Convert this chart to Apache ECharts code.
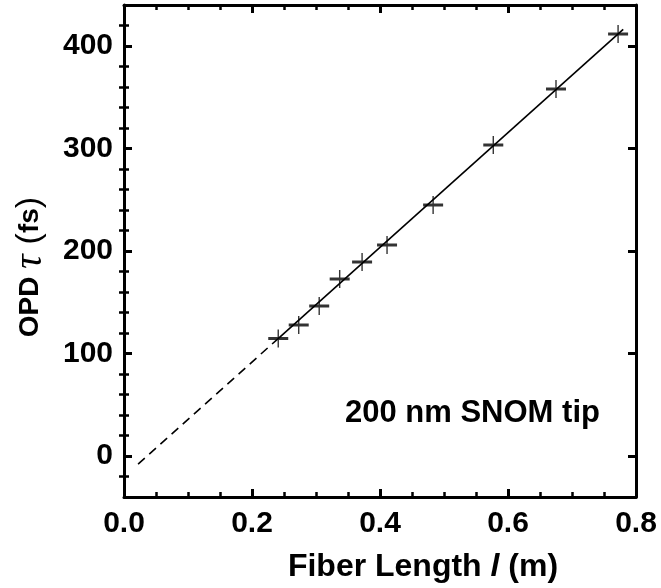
<!DOCTYPE html>
<html><head><meta charset="utf-8">
<script src="https://cdn.jsdelivr.net/npm/echarts@6/dist/echarts.min.js"></script>
<style>html,body{margin:0;padding:0;background:#fff}#c{width:661px;height:588px}</style>
</head><body><div id="c"></div>
<script>
// Measured data (fiber length in m, OPD in fs)
const lengthM = [0.241, 0.273, 0.305, 0.337, 0.372, 0.411, 0.483, 0.577, 0.675, 0.772];
const opdFs   = [114.6, 127.8, 146.3, 172.7, 189.3, 205.9, 244.9, 303.4, 358.0, 411.7];
// Linear fit: dashed extrapolation and solid part
const fitDashX = [0.022, 0.24];
const fitDashY = [-8.0, 114.1];
const fitSolidX = [0.24, 0.78];
const fitSolidY = [114.1, 416.2];
// Ticks
const xTicks = [0, 0.2, 0.4, 0.6, 0.8];
const yTicks = [0, 100, 200, 300, 400];
const yMinorTicks = [-20, 20, 40, 60, 80, 120, 140, 160, 180, 220, 240, 260, 280, 320, 340, 360, 380, 420];
const annotation = '200 nm SNOM tip';

const FONT = 'Liberation Sans';
const chart = echarts.init(document.getElementById('c'));
const crossPath = 'path://M0,8.4 L20,8.4 L20,11.6 L0,11.6 Z M9.3,0 L10.7,0 L10.7,20 L9.3,20 Z';

function xAxisCfg(pos, showLabel) {
  return {
    type: 'value', position: pos, min: 0, max: 0.8, interval: 0.2,
    axisLine: {show: true, onZero: false, lineStyle: {color: '#000', width: 3}},
    axisTick: {show: true, inside: true, length: 8, lineStyle: {color: '#000', width: 3}},
    minorTick: {show: true, splitNumber: 4, length: 5, lineStyle: {color: '#000', width: 2.5}},
    splitLine: {show: false}, minorSplitLine: {show: false},
    axisLabel: {show: showLabel, margin: 12, fontFamily: FONT, fontWeight: 'bold', fontSize: 30, color: '#000',
      formatter: v => v.toFixed(1)}
  };
}
function yAxisCfg(pos, showLabel) {
  return {
    type: 'value', position: pos, min: -40, max: 440,
    axisLine: {show: true, onZero: false, lineStyle: {color: '#000', width: 3}},
    axisTick: {show: true, inside: true, length: 8, customValues: yTicks, lineStyle: {color: '#000', width: 3}},
    splitLine: {show: false},
    axisLabel: {show: showLabel, margin: 11, customValues: yTicks, fontFamily: FONT, fontWeight: 'bold', fontSize: 30, color: '#000'}
  };
}
function yMinorCfg(pos) {
  return {
    type: 'value', position: pos, min: -40, max: 440,
    axisLine: {show: false},
    axisTick: {show: true, inside: true, length: 5, customValues: yMinorTicks, lineStyle: {color: '#000', width: 2.5}},
    axisLabel: {show: false}, splitLine: {show: false}
  };
}

chart.setOption({
  animation: false,
  backgroundColor: '#fff',
  grid: {left: 124, right: 25, top: 5, bottom: 91, containLabel: false},
  xAxis: [xAxisCfg('bottom', true), xAxisCfg('top', false)],
  yAxis: [yAxisCfg('left', true), yAxisCfg('right', false), yMinorCfg('left'), yMinorCfg('right')],
  series: [
    {type: 'line', data: fitDashX.map((x, i) => [x, fitDashY[i]]), symbol: 'none',
      lineStyle: {color: '#000', width: 1.6, type: [9, 6]}},
    {type: 'line', data: fitSolidX.map((x, i) => [x, fitSolidY[i]]), symbol: 'none',
      lineStyle: {color: '#000', width: 1.6}},
    {type: 'scatter', data: lengthM.map((x, i) => [x, opdFs[i]]), symbol: crossPath, symbolSize: [20, 18],
      itemStyle: {color: '#000'}}
  ],
  graphic: [
    {type: 'text', left: 345, top: 398, style: {text: annotation, font: 'bold 31px "Liberation Sans"', fill: '#000'}},
    {type: 'text', x: 423, y: 567,
      style: {text: '{a|Fiber Length }{b|l}{a| (m)}', align: 'center', verticalAlign: 'middle',
        rich: {
          a: {fontFamily: FONT, fontWeight: 'bold', fontSize: 32, fill: '#000'},
          b: {fontFamily: FONT, fontWeight: 'bold', fontStyle: 'italic', fontSize: 32, fill: '#000'}
        }}},
    {type: 'text', x: 30, y: 267, rotation: Math.PI / 2,
      style: {text: '{a|OPD }{t|τ }{p|(}{a|fs}{p|)}', align: 'center', verticalAlign: 'middle',
        rich: {
          a: {fontFamily: FONT, fontWeight: 'bold', fontSize: 28, fill: '#000'},
          t: {fontFamily: 'Liberation Serif', fontStyle: 'italic', fontSize: 40, fill: '#000'},
          p: {fontFamily: FONT, fontSize: 34, fill: '#000'}
        }}}
  ]
});
</script></body></html>
